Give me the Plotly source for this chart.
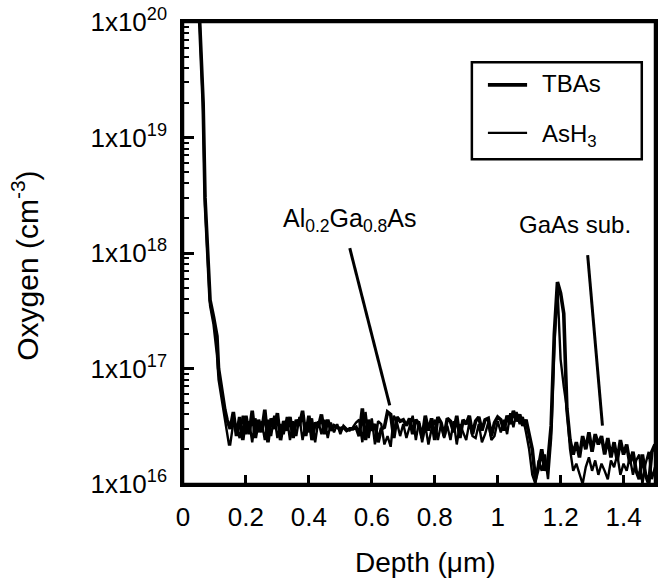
import plotly.graph_objects as go

# ---- data (oxygen concentration in units of 1e16 cm^-3) ----
depth_head = [0.053, 0.058, 0.064, 0.070, 0.079, 0.086, 0.097, 0.108, 0.113, 0.122, 0.133, 0.140, 0.146]
tbas_head = [10000, 5000, 2000, 300, 100, 39, 28, 19, 10, 6.5, 4.4, 3.6, 3.2]
ash3_head = [10000, 4500, 1700, 260, 90, 35, 24, 13, 8, 5.5, 3.6, 2.8, 2.2]

depth_body = [round(0.15 + 0.01 * i, 2) for i in range(136)]
tbas_body = [
    3.0, 4.2, 2.6, 3.8, 2.4, 3.9, 2.7, 4.3, 2.5, 3.6,
    2.8, 4.4, 2.3, 3.7, 3.0, 4.1, 2.4, 3.5, 2.9, 3.8,
    2.5, 3.6, 3.2, 4.3, 2.6, 3.9, 2.4, 3.4, 3.1, 4.0,
    2.7, 3.6, 2.9, 3.2, 3.1, 3.0, 3.1, 2.9, 3.0, 3.0,
    3.1, 2.6, 4.5, 2.4, 3.6, 2.9, 3.3, 2.3, 3.0, 3.1,
    4.2, 4.0, 2.5, 3.8, 3.5, 3.6, 3.2, 3.7, 2.7, 3.6,
    3.3, 2.5, 3.9, 2.9, 3.7, 2.4, 3.8, 3.4, 2.6, 3.7,
    3.5, 2.8, 3.9, 2.5, 3.6, 3.3, 3.9, 2.7, 3.5, 3.8,
    2.9, 3.6, 3.7, 2.6, 3.4, 3.8, 3.6, 2.9, 3.9, 3.3,
    4.3, 3.5, 4.0, 3.2, 3.6, 2.6, 2.0, 1.1, 1.4, 2.0,
    1.3, 1.6, 3.2, 20, 56, 45, 30, 4.5, 2.4, 1.8,
    2.3, 1.7, 2.6, 2.0, 2.8, 1.9, 2.7, 2.2, 2.6, 1.8,
    2.5, 1.7, 2.3, 1.6, 2.4, 1.8, 2.2, 1.5, 1.9, 1.3,
    1.1, 1.8, 1.2, 1.0, 1.9, 2.2,
]
ash3_body = [
    2.2, 3.4, 3.1, 2.5, 3.9, 2.7, 3.5, 2.3, 3.7, 2.8,
    3.5, 2.4, 3.6, 2.6, 3.9, 2.5, 3.3, 2.7, 3.8, 2.4,
    3.5, 2.6, 3.8, 2.4, 3.4, 2.8, 3.7, 2.3, 3.5, 2.7,
    3.6, 2.5, 3.4, 2.8, 3.3, 2.7, 3.2, 3.0, 2.9, 3.1,
    3.4, 3.6, 2.3, 4.2, 2.5, 3.7, 2.2, 3.5, 3.3, 2.2,
    2.6, 2.1, 3.9, 3.4, 2.6, 3.3, 2.5, 3.1, 3.9, 2.4,
    3.5, 2.3, 3.2, 2.2, 3.0, 3.6, 2.4, 3.3, 2.5, 3.2,
    2.4, 3.5, 2.2, 3.3, 2.8, 2.4, 3.4, 2.6, 2.5, 3.3,
    2.3, 2.7, 3.4, 2.4, 2.6, 3.5, 2.8, 3.6, 2.7, 4.1,
    3.1, 4.2, 3.3, 3.8, 2.8, 2.0, 1.2, 1.0, 1.6, 1.3,
    1.8, 1.1, 2.5, 15, 50, 12, 7, 4.5, 2.0, 1.3,
    1.5, 1.2, 1.0, 1.4, 1.7, 1.3, 1.6, 1.2, 1.5, 1.3,
    1.1, 1.6, 1.4, 1.8, 1.2, 1.5, 1.3, 1.7, 1.2, 1.6,
    1.8, 1.0, 1.5, 1.9, 1.1, 1.4,
]
UNIT = 1e16

# pointer lines for the layer labels (depth, concentration)
algaas_ptr_x = [0.53, 0.657]
algaas_ptr_y = [1.1e18, 4.8e16]
gaas_ptr_x = [1.286, 1.333]
gaas_ptr_y = [9.6e17, 3.2e16]

y_major = [1e16, 1e17, 1e18, 1e19, 1e20]
y_major_text = ["1x10<sup>16</sup>", "1x10<sup>17</sup>", "1x10<sup>18</sup>",
                "1x10<sup>19</sup>", "1x10<sup>20</sup>"]
y_minor = [m * 10.0 ** e for e in range(16, 20) for m in range(2, 10)]
x_ticks = [0, 0.2, 0.4, 0.6, 0.8, 1.0, 1.2, 1.4]
x_ticktext = ["0", "0.2", "0.4", "0.6", "0.8", "1", "1.2", "1.4"]

FONT = "Liberation Sans, Arial, Helvetica, sans-serif"

depth = depth_head + depth_body
tbas = [v * UNIT for v in tbas_head + tbas_body]
ash3 = [v * UNIT for v in ash3_head + ash3_body]

fig = go.Figure()
fig.add_trace(go.Scatter(x=depth, y=ash3, mode="lines", name="AsH<sub>3</sub>",
                         line=dict(color="black", width=2.4), showlegend=False))
fig.add_trace(go.Scatter(x=depth, y=tbas, mode="lines", name="TBAs",
                         line=dict(color="black", width=3.6), showlegend=False))
fig.add_trace(go.Scatter(x=algaas_ptr_x, y=algaas_ptr_y, mode="lines",
                         line=dict(color="black", width=3), showlegend=False, hoverinfo="skip"))
fig.add_trace(go.Scatter(x=gaas_ptr_x, y=gaas_ptr_y, mode="lines",
                         line=dict(color="black", width=3), showlegend=False, hoverinfo="skip"))

# plot frame
fig.add_shape(type="rect", xref="paper", yref="paper", x0=0, x1=1, y0=0, y1=1,
              line=dict(color="black", width=2.5), fillcolor="rgba(0,0,0,0)")

# legend box drawn manually
fig.add_shape(type="rect", xref="paper", yref="paper", x0=0.612, x1=0.972, y0=0.703, y1=0.913,
              line=dict(color="black", width=2.5), fillcolor="white")
fig.add_shape(type="line", xref="paper", yref="paper", x0=0.646, x1=0.729, y0=0.864, y1=0.864,
              line=dict(color="black", width=3.8))
fig.add_shape(type="line", xref="paper", yref="paper", x0=0.646, x1=0.729, y0=0.760, y1=0.760,
              line=dict(color="black", width=2.2))
fig.add_annotation(xref="paper", yref="paper", x=0.757, y=0.866, text="TBAs", showarrow=False,
                   xanchor="left", yanchor="middle", font=dict(size=24, color="black", family=FONT))
fig.add_annotation(xref="paper", yref="paper", x=0.757, y=0.755, text="AsH<sub>3</sub>", showarrow=False,
                   xanchor="left", yanchor="middle", font=dict(size=24, color="black", family=FONT))

# layer labels
fig.add_annotation(x=0.53, y=18.29, text="Al<sub>0.2</sub>Ga<sub>0.8</sub>As", showarrow=False,
                   font=dict(size=25, color="black", family=FONT))
fig.add_annotation(x=1.245, y=18.25, text="GaAs sub.", showarrow=False,
                   font=dict(size=24, color="black", family=FONT))

# axis titles
fig.add_annotation(xref="paper", yref="paper", x=0.513, y=-0.169, text="Depth (μm)", showarrow=False,
                   xanchor="center", yanchor="middle", font=dict(size=28, color="black", family=FONT))
fig.add_annotation(xref="paper", yref="paper", x=-0.335, y=0.472, text="Oxygen (cm<sup>-3</sup>)",
                   textangle=-90, showarrow=False, xanchor="center", yanchor="middle",
                   font=dict(size=30, color="black", family=FONT))

axis_common = dict(showline=True, linecolor="black", linewidth=2.5, mirror=True,
                   showgrid=False, zeroline=False, ticks="inside", tickcolor="black",
                   automargin=False,
                   tickfont=dict(size=26, color="black", family=FONT))

fig.update_layout(
    xaxis=dict(range=[0, 1.5], tickmode="array", tickvals=x_ticks, ticktext=x_ticktext,
               ticklen=9, tickwidth=2.5, ticklabelstandoff=8, **axis_common),
    yaxis=dict(type="log", range=[16, 20], tickmode="array", tickvals=y_major, ticktext=y_major_text,
               ticklen=11, tickwidth=2.5, ticklabelstandoff=8, **axis_common),
    yaxis2=dict(type="log", range=[16, 20], overlaying="y", anchor="x", side="left",
                tickmode="array", tickvals=y_minor, ticks="inside", ticklen=6, tickwidth=2,
                tickcolor="black", showticklabels=False, showline=False, showgrid=False,
                zeroline=False, automargin=False),
    width=658, height=583, margin=dict(l=183, r=3, t=22, b=99),
    paper_bgcolor="white", plot_bgcolor="white",
    font=dict(family=FONT, color="black"),
)

# invisible trace to bind the minor-tick axis
fig.add_trace(go.Scatter(x=[0.0], y=[1e16], yaxis="y2", mode="markers", marker=dict(opacity=0),
                         showlegend=False, hoverinfo="skip"))

fig.write_html("out.html", config={"displayModeBar": False},
               post_script="document.body.style.margin='0';")
